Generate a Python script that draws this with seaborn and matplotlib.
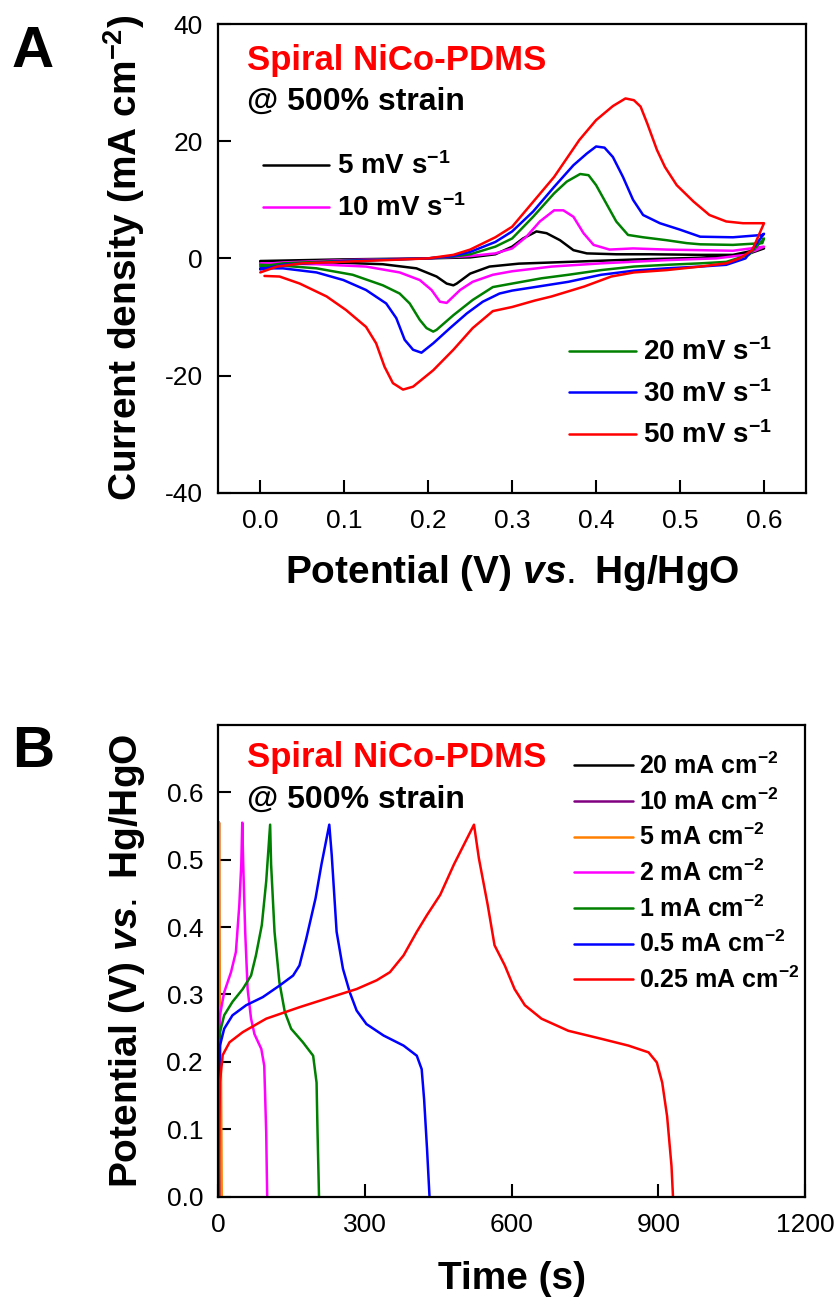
import numpy as np
import pandas as pd
import matplotlib
matplotlib.use('Agg')
import matplotlib.pyplot as plt
import seaborn as sns

sns.set_theme(style='ticks')
plt.rcParams['font.family'] = ['Liberation Sans', 'DejaVu Sans']
plt.rcParams['mathtext.fontset'] = 'custom'
plt.rcParams['mathtext.rm'] = 'Liberation Sans'
plt.rcParams['mathtext.bf'] = 'Liberation Sans:bold'
plt.rcParams['mathtext.it'] = 'Liberation Sans:italic:bold'
plt.rcParams['axes.unicode_minus'] = False
plt.rcParams['text.color'] = 'black'
plt.rcParams['axes.labelcolor'] = 'black'
plt.rcParams['xtick.color'] = 'black'
plt.rcParams['ytick.color'] = 'black'

# ---------------- Panel A: CV curves (potential V, current density mA cm-2) ----------------
cv5_v = [0, 0.1, 0.2, 0.25, 0.28, 0.3, 0.313, 0.329, 0.341, 0.357, 0.373, 0.389, 0.424, 0.464,
         0.524, 0.563, 0.6, 0.578, 0.524, 0.445, 0.367, 0.308, 0.273, 0.25, 0.234, 0.23, 0.222,
         0.21, 0.186, 0.146, 0.087, 0]
cv5_j = [-0.45, -0.17, 0, 0.17, 0.7, 2.0, 3.4, 4.6, 4.3, 3.1, 1.4, 0.85, 0.7, 0.7,
         0.6, 0.6, 1.7, 0.6, 0.1, -0.2, -0.6, -0.9, -1.4, -2.6, -4.3, -4.6, -4.3,
         -3.1, -1.7, -1.0, -0.7, -0.6]

cv10_v = [0, 0.027, 0.1, 0.2, 0.25, 0.28, 0.3, 0.317, 0.333, 0.35, 0.361, 0.373, 0.385, 0.397,
          0.416, 0.444, 0.484, 0.524, 0.563, 0.6, 0.578, 0.543, 0.484, 0.406, 0.347, 0.3, 0.277,
          0.253, 0.238, 0.222, 0.214, 0.204, 0.19, 0.166, 0.126, 0.067, 0]
cv10_j = [-1.0, -0.7, -0.3, 0, 0.4, 0.85, 1.7, 3.7, 6.3, 8.2, 8.2, 7.1, 4.3, 2.3,
          1.5, 1.7, 1.5, 1.4, 1.3, 2.0, 0.6, 0, -0.3, -0.85, -1.4, -2.2, -2.8,
          -4.0, -5.4, -7.6, -7.4, -5.4, -3.7, -2.4, -1.4, -1.0, -0.85]

cv20_v = [0, 0.027, 0.1, 0.2, 0.23, 0.25, 0.28, 0.3, 0.325, 0.35, 0.365, 0.381, 0.391, 0.4,
          0.412, 0.424, 0.438, 0.456, 0.484, 0.508, 0.524, 0.563, 0.598, 0.6, 0.582, 0.555,
          0.524, 0.484, 0.445, 0.406, 0.367, 0.335, 0.3, 0.277, 0.253, 0.23, 0.21, 0.206,
          0.198, 0.19, 0.178, 0.166, 0.146, 0.11, 0.067, 0.027, 0]
cv20_j = [-1.4, -0.85, -0.4, 0, 0.3, 0.7, 2.0, 3.4, 7.1, 11.1, 13.1, 14.4, 14.2, 12.5,
          9.4, 6.3, 4.0, 3.6, 3.1, 2.6, 2.4, 2.3, 2.6, 3.4, 0.6, -0.6,
          -0.85, -1.1, -1.4, -2.0, -2.8, -3.4, -4.3, -4.9, -7.1, -9.7, -12.2, -12.5,
          -11.9, -10.5, -7.7, -6.0, -4.6, -2.8, -1.7, -1.25, -1.1]

cv30_v = [0, 0.027, 0.1, 0.2, 0.23, 0.25, 0.28, 0.3, 0.325, 0.35, 0.373, 0.389, 0.4, 0.41,
          0.42, 0.432, 0.444, 0.456, 0.476, 0.5, 0.524, 0.563, 0.598, 0.6, 0.578, 0.555,
          0.524, 0.484, 0.445, 0.406, 0.367, 0.327, 0.3, 0.285, 0.265, 0.246, 0.226, 0.206,
          0.192, 0.182, 0.172, 0.162, 0.15, 0.126, 0.099, 0.067, 0.027, 0]
cv30_j = [-1.9, -1.1, -0.45, 0, 0.4, 1.1, 2.8, 4.6, 8.0, 12.2, 15.9, 17.9, 19.1, 18.9,
          17.3, 13.9, 10.0, 7.4, 6.0, 4.9, 3.7, 3.6, 4.0, 4.2, 0, -1.1,
          -1.4, -1.7, -2.1, -2.8, -4.0, -4.9, -5.5, -6.0, -7.4, -9.4, -11.9, -14.5,
          -16.1, -15.6, -13.9, -10.2, -7.7, -5.4, -3.7, -2.4, -1.7, -1.7]

cv50_v = [0, 0.02, 0.05, 0.1, 0.15, 0.2, 0.23, 0.25, 0.28, 0.3, 0.32, 0.35, 0.38, 0.4, 0.42,
          0.435, 0.445, 0.453, 0.461, 0.4725, 0.482, 0.496, 0.516, 0.535, 0.555, 0.575, 0.598,
          0.6, 0.586, 0.571, 0.555, 0.524, 0.484, 0.445, 0.418, 0.386, 0.347, 0.327, 0.3,
          0.277, 0.253, 0.23, 0.206, 0.182, 0.17, 0.158, 0.148, 0.138, 0.126, 0.102, 0.079,
          0.047, 0.023, 0.005]
cv50_j = [-2.4, -1.4, -0.85, -0.57, -0.3, 0, 0.6, 1.5, 3.6, 5.4, 8.8, 13.9, 20.2, 23.6, 26.0,
          27.3, 27.0, 25.9, 23.0, 18.5, 15.6, 12.5, 9.7, 7.4, 6.3, 6.0, 6.0,
          6.0, 1.4, 0, -0.85, -1.4, -2.0, -2.4, -3.1, -4.8, -6.5, -7.2, -8.3,
          -9.0, -11.9, -15.6, -19.1, -21.9, -22.4, -21.3, -18.5, -14.5, -11.7, -8.8, -6.5,
          -4.3, -3.1, -3.0]

cv_labels = ['5 mV s$\\mathbf{^{-1}}$', '10 mV s$\\mathbf{^{-1}}$', '20 mV s$\\mathbf{^{-1}}$',
             '30 mV s$\\mathbf{^{-1}}$', '50 mV s$\\mathbf{^{-1}}$']
cv_colors = ['#000000', '#FF00FF', '#008000', '#0000FF', '#FF0000']

# ---------------- Panel B: GCD curves (time s, potential V) ----------------
gcd20_t = [0, 0.3, 0.6, 1.0, 1.8]
gcd20_v = [0, 0.4, 0.555, 0.2, 0]
gcd10_t = [0, 0.5, 1.2, 2.0, 3.5]
gcd10_v = [0, 0.35, 0.555, 0.2, 0]
gcd5_t = [0, 0.5, 1.5, 3.0, 4.0, 5.5, 7.0]
gcd5_v = [0, 0.3, 0.555, 0.3, 0.22, 0.18, 0]
gcd2_t = [0, 0.7, 3.4, 12, 26, 36, 43, 47, 49, 51, 55, 60, 67, 74, 88, 94, 98, 100]
gcd2_v = [0, 0.194, 0.269, 0.303, 0.333, 0.363, 0.433, 0.493, 0.555, 0.493, 0.393, 0.308,
          0.264, 0.241, 0.219, 0.194, 0.095, 0]
gcd1_t = [0, 0.7, 3.4, 12, 29, 50, 67, 77, 89, 98, 106, 108, 115, 125, 136, 149, 173, 194,
          201, 203, 206]
gcd1_v = [0, 0.169, 0.244, 0.269, 0.289, 0.308, 0.328, 0.358, 0.403, 0.468, 0.552, 0.493,
          0.393, 0.318, 0.274, 0.249, 0.229, 0.209, 0.169, 0.095, 0]
gcd05_t = [0, 0.7, 3.4, 12, 29, 57, 91, 125, 153, 166, 180, 199, 211, 227, 232, 242, 255, 269,
           283, 303, 338, 379, 406, 416, 421, 427, 432]
gcd05_v = [0, 0.144, 0.224, 0.249, 0.269, 0.284, 0.296, 0.313, 0.328, 0.343, 0.383, 0.443,
           0.493, 0.552, 0.507, 0.393, 0.338, 0.303, 0.276, 0.256, 0.239, 0.224, 0.209, 0.189,
           0.144, 0.07, 0]
gcd025_t = [0, 2, 3.4, 9, 23, 50, 98, 166, 235, 283, 324, 351, 379, 406, 427, 454, 482, 523,
            533, 551, 565, 586, 606, 627, 661, 716, 784, 839, 880, 897, 908, 918, 927, 930]
gcd025_v = [0, 0.095, 0.17, 0.21, 0.229, 0.244, 0.264, 0.281, 0.297, 0.308, 0.321, 0.333,
            0.358, 0.393, 0.418, 0.448, 0.493, 0.552, 0.502, 0.433, 0.373, 0.343, 0.308, 0.284,
            0.264, 0.246, 0.234, 0.224, 0.214, 0.199, 0.169, 0.119, 0.045, 0]

gcd_labels = ['20 mA cm$\\mathbf{^{-2}}$', '10 mA cm$\\mathbf{^{-2}}$', '5 mA cm$\\mathbf{^{-2}}$',
              '2 mA cm$\\mathbf{^{-2}}$', '1 mA cm$\\mathbf{^{-2}}$', '0.5 mA cm$\\mathbf{^{-2}}$',
              '0.25 mA cm$\\mathbf{^{-2}}$']
gcd_colors = ['#000000', '#800080', '#FF8000', '#FF00FF', '#008000', '#0000FF', '#FF0000']

# ---------------- Figure ----------------
fig = plt.figure(figsize=(8.38, 12.99), dpi=100)
ax1 = fig.add_axes([0.2605, 0.6207, 0.7013, 0.3608])
ax2 = fig.add_axes([0.2605, 0.0789, 0.7001, 0.3630])


def style_axis(ax):
    for side in ['top', 'right', 'left', 'bottom']:
        ax.spines[side].set_visible(True)
        ax.spines[side].set_linewidth(1.6)
        ax.spines[side].set_color('black')
    ax.tick_params(direction='in', length=9.5, width=1.5, colors='black',
                   labelsize=19, top=False, right=False)
    ax.tick_params(axis='x', pad=12)
    ax.tick_params(axis='y', pad=11)
    ax.grid(False)


# Panel A
cv_sets = [(cv5_v, cv5_j), (cv10_v, cv10_j), (cv20_v, cv20_j), (cv30_v, cv30_j), (cv50_v, cv50_j)]
for (v, j), lab, col in zip(cv_sets, cv_labels, cv_colors):
    df = pd.DataFrame({'v': v, 'j': j})
    sns.lineplot(data=df, x='v', y='j', sort=False, estimator=None, color=col,
                 lw=1.8, label=lab, ax=ax1, legend=False)

ax1.set_xlim(-0.05, 0.65)
ax1.set_ylim(-40, 40)
ax1.set_xticks([0.0, 0.1, 0.2, 0.3, 0.4, 0.5, 0.6])
ax1.set_xticklabels(['0.0', '0.1', '0.2', '0.3', '0.4', '0.5', '0.6'])
ax1.set_yticks([-40, -20, 0, 20, 40])
ax1.set_yticklabels(['-40', '-20', '0', '20', '40'])
style_axis(ax1)
ax1.set_xlabel('Potential (V) $\\mathit{vs.}$ Hg/HgO', fontsize=28, fontweight='bold')
ax1.set_ylabel('Current density (mA cm$\\mathbf{^{-2}}$)', fontsize=28, fontweight='bold')
ax1.xaxis.set_label_coords(0.5, -0.128)
ax1.yaxis.set_label_coords(-0.121, 0.5)

handles = ax1.get_lines()
leg1 = ax1.legend(handles[:2], cv_labels[:2], loc='upper left', bbox_to_anchor=(0.0755, 0.726),
                  frameon=False, prop={'weight': 'bold', 'size': 20},
                  handlelength=2.4, handletextpad=0.28, labelspacing=0.52,
                  borderpad=0, borderaxespad=0)
ax1.add_artist(leg1)
ax1.legend(handles[2:], cv_labels[2:], loc='upper left', bbox_to_anchor=(0.5967, 0.3287),
           frameon=False, prop={'weight': 'bold', 'size': 20},
           handlelength=2.4, handletextpad=0.28, labelspacing=0.49,
           borderpad=0, borderaxespad=0)

ax1.text(0.0483, 0.9019, 'Spiral NiCo-PDMS', transform=ax1.transAxes, color='#FF0000',
         fontsize=25, fontweight='bold', va='baseline', ha='left')
ax1.text(0.0483, 0.8165, '@ 500% strain', transform=ax1.transAxes, color='black',
         fontsize=23, fontweight='bold', va='baseline', ha='left')

# Panel B
gcd_sets = [(gcd20_t, gcd20_v), (gcd10_t, gcd10_v), (gcd5_t, gcd5_v), (gcd2_t, gcd2_v),
            (gcd1_t, gcd1_v), (gcd05_t, gcd05_v), (gcd025_t, gcd025_v)]
for (t, v), lab, col in zip(gcd_sets, gcd_labels, gcd_colors):
    df = pd.DataFrame({'t': t, 'v': v})
    sns.lineplot(data=df, x='t', y='v', sort=False, estimator=None, color=col,
                 lw=1.8, label=lab, ax=ax2, legend=False)

ax2.set_xlim(0, 1200)
ax2.set_ylim(0, 0.7)
ax2.set_xticks([0, 300, 600, 900, 1200])
ax2.set_yticks([0.0, 0.1, 0.2, 0.3, 0.4, 0.5, 0.6])
ax2.set_yticklabels(['0.0', '0.1', '0.2', '0.3', '0.4', '0.5', '0.6'])
style_axis(ax2)
ax2.set_xlabel('Time (s)', fontsize=28, fontweight='bold')
ax2.set_ylabel('Potential (V) $\\mathit{vs.}$ Hg/HgO', fontsize=28, fontweight='bold')
ax2.xaxis.set_label_coords(0.5, -0.136)
ax2.yaxis.set_label_coords(-0.121, 0.5)

ax2.legend(ax2.get_lines(), gcd_labels, loc='upper left', bbox_to_anchor=(0.606, 0.941),
           frameon=False, prop={'weight': 'bold', 'size': 18},
           handlelength=2.36, handletextpad=0.24, labelspacing=0.37,
           borderpad=0, borderaxespad=0)

ax2.text(0.0484, 0.9116, 'Spiral NiCo-PDMS', transform=ax2.transAxes, color='#FF0000',
         fontsize=25, fontweight='bold', va='baseline', ha='left')
ax2.text(0.0484, 0.8233, '@ 500% strain', transform=ax2.transAxes, color='black',
         fontsize=23, fontweight='bold', va='baseline', ha='left')

# Panel letters
fig.text(12 / 838, 1 - 67 / 1299, 'A', fontsize=42, fontweight='bold', color='black',
         va='baseline', ha='left')
fig.text(12 / 838, 1 - 767 / 1299, 'B', fontsize=42, fontweight='bold', color='black',
         va='baseline', ha='left')

fig.savefig('out.png', dpi=100)
